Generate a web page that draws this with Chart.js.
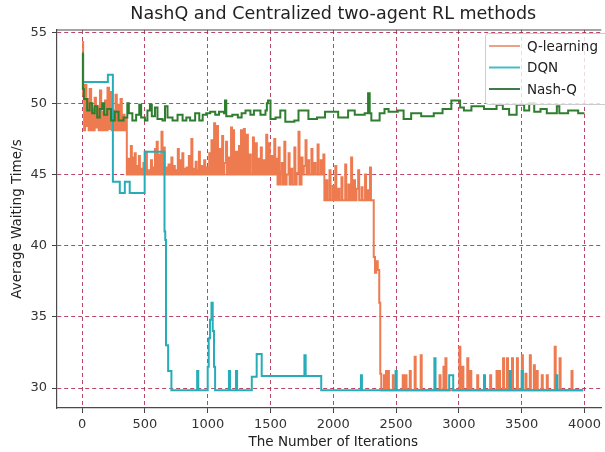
<!DOCTYPE html>
<html>
<head>
<meta charset="utf-8">
<script src="https://cdn.jsdelivr.net/npm/chart.js@4.4.0/dist/chart.umd.min.js"></script>
<style>
html, body { margin: 0; padding: 0; background: #fff; overflow: hidden; }
#wrap { width: 605px; height: 452px; }
</style>
</head>
<body>
<div id="wrap"><canvas id="chart" width="605" height="452"></canvas></div>
<script>
const titleText = 'NashQ and Centralized two-agent RL methods';
const xLabel = 'The Number of Iterations';
const yLabel = 'Average Waiting Time/s';
const seriesNames = ['Q-learning', 'DQN', 'Nash-Q'];
const xTicks = [0, 500, 1000, 1500, 2000, 2500, 3000, 3500, 4000];
const yTicks = [30, 35, 40, 45, 50, 55];

// Q-learning, [iteration, waiting time] step values
const qStart = [
  [0, 54.3], [8, 50.6], [16, 48.1], [24, 51.3], [34, 48.4], [42, 50.3], [52, 48.1], [60, 51.0],
  [72, 48.1], [82, 49.6], [92, 48.1], [100, 50.4], [110, 48.3], [120, 49.8], [132, 48.1], [142, 50.9],
  [152, 48.1], [162, 49.4], [172, 48.1], [182, 50.2], [192, 48.1], [202, 51.1], [214, 48.2], [224, 50.8],
  [236, 48.1], [246, 49.5], [256, 48.1], [266, 50.6], [276, 48.1], [286, 49.9], [296, 48.1], [306, 50.3],
  [316, 48.1], [326, 49.2], [338, 48.1], [348, 48.9]
];
const qMid = [
  [356, 45.0], [372, 46.1], [380, 45.0], [388, 47.0], [396, 45.0], [404, 46.2], [412, 45.0], [419, 46.5],
  [427, 45.0], [436, 45.6], [444, 45.0], [452, 46.3], [460, 45.0], [470, 45.4], [478, 45.0], [488, 45.8],
  [496, 45.0], [508, 46.6], [516, 45.0], [528, 45.3], [536, 45.0], [548, 46.0], [556, 45.0], [566, 45.5],
  [574, 45.0], [580, 46.8], [588, 45.0], [594, 47.3], [602, 45.0], [612, 46.4], [620, 45.0], [632, 48.0],
  [640, 45.0], [650, 46.9], [658, 45.0], [668, 45.5], [676, 45.0], [688, 45.7], [696, 45.0], [711, 46.2],
  [719, 45.0], [730, 45.6], [738, 45.0], [748, 45.3], [756, 45.0], [762, 46.8], [770, 45.0], [780, 46.0],
  [788, 45.0], [798, 46.5], [806, 45.0], [816, 45.4], [824, 45.0], [832, 45.5], [840, 45.0], [850, 46.3],
  [858, 45.0], [870, 47.5], [878, 45.0], [888, 45.4], [896, 45.0], [904, 45.9], [912, 45.0], [922, 45.3],
  [930, 46.6], [938, 45.0], [952, 45.6], [960, 45.0], [972, 46.0], [980, 45.0], [990, 45.5], [998, 45.0],
  [1012, 46.5], [1020, 45.0], [1030, 47.4], [1038, 45.0], [1051, 48.6], [1059, 45.0], [1066, 46.2], [1074, 48.4],
  [1082, 45.0], [1095, 46.8], [1103, 45.0], [1115, 47.7], [1123, 45.0], [1133, 45.8], [1146, 47.3], [1154, 45.0],
  [1165, 46.2], [1173, 45.0], [1186, 48.3], [1194, 45.0], [1202, 48.1], [1210, 45.0], [1218, 45.7], [1225, 46.6],
  [1233, 45.0], [1249, 47.0], [1257, 45.0], [1265, 48.1], [1273, 45.0], [1280, 46.0], [1288, 48.2], [1296, 45.0],
  [1312, 47.8], [1320, 45.0], [1327, 45.6], [1335, 46.4], [1343, 45.0], [1360, 47.6], [1368, 45.0], [1375, 45.8],
  [1383, 47.2], [1391, 45.0], [1405, 46.1], [1413, 45.0], [1423, 46.9], [1431, 45.0], [1445, 46.0], [1453, 45.0],
  [1466, 47.8], [1474, 45.0], [1486, 47.2], [1494, 45.0], [1502, 45.6], [1510, 46.3], [1518, 45.0], [1530, 47.5],
  [1538, 45.0], [1548, 46.1], [1556, 44.3], [1565, 46.9], [1573, 44.3], [1581, 45.2], [1590, 45.8], [1598, 44.3],
  [1610, 47.3], [1618, 44.3], [1628, 45.0], [1644, 46.5], [1652, 44.3], [1665, 45.4], [1673, 44.3], [1690, 46.9],
  [1698, 44.3], [1708, 45.1], [1723, 48.0], [1731, 44.3], [1747, 46.2], [1755, 45.0], [1765, 45.6], [1779, 47.4],
  [1787, 45.0], [1800, 46.0], [1808, 45.0], [1826, 46.8], [1834, 45.0], [1850, 45.8], [1858, 45.0], [1875, 47.1],
  [1883, 45.0], [1900, 46.0], [1908, 45.0], [1921, 46.4], [1929, 43.2], [1945, 44.6], [1953, 43.2], [1970, 45.3],
  [1978, 43.2], [1995, 44.2], [2003, 43.2], [2016, 45.6], [2024, 43.2], [2040, 44.0], [2048, 43.2], [2065, 44.8],
  [2073, 43.2], [2095, 45.7], [2103, 43.2], [2120, 44.3], [2128, 43.2], [2142, 46.2], [2150, 43.2], [2165, 44.6],
  [2173, 43.2], [2185, 44.0], [2198, 45.3], [2206, 43.2], [2225, 44.1], [2233, 43.2], [2253, 45.0], [2261, 43.2],
  [2275, 43.9], [2283, 43.2], [2292, 45.5], [2300, 43.2]
];
const qDrop = [
  [2322, 39.2], [2332, 38.1], [2342, 38.9], [2354, 38.3], [2366, 36.0], [2374, 31.0], [2382, 29.85]
];
const qTail = [
  [2403, 30.9], [2413, 29.85], [2420, 31.2], [2428, 29.85], [2435, 31.2], [2443, 29.85], [2474, 30.9], [2482, 29.85],
  [2553, 30.9], [2561, 29.85], [2575, 30.9], [2583, 29.85], [2609, 31.2], [2617, 29.85], [2648, 32.2], [2656, 29.85],
  [2696, 32.3], [2704, 29.85], [2846, 30.9], [2854, 29.85], [2877, 31.5], [2885, 29.85], [2893, 32.1], [2901, 29.85],
  [3004, 32.9], [3012, 29.85], [3028, 31.5], [3036, 29.85], [3067, 32.1], [3075, 29.85], [3091, 31.2], [3099, 29.85],
  [3146, 30.9], [3154, 29.85], [3249, 30.9], [3257, 29.85], [3300, 31.2], [3308, 29.85], [3320, 31.2], [3328, 29.85],
  [3352, 32.1], [3360, 29.85], [3383, 32.1], [3391, 29.85], [3400, 31.0], [3408, 29.85], [3423, 32.1], [3431, 29.85],
  [3462, 32.1], [3470, 29.85], [3502, 32.3], [3510, 29.85], [3530, 31.0], [3538, 29.85], [3565, 32.3], [3573, 29.85],
  [3597, 31.6], [3605, 29.85], [3620, 31.2], [3628, 29.85], [3660, 30.9], [3668, 29.85], [3700, 30.9], [3708, 29.85],
  [3763, 32.9], [3771, 29.85], [3802, 32.1], [3810, 29.85], [3897, 31.2], [3905, 29.85], [3990, 29.85]
];

// DQN
const dqnSteps = [
  [0, 53.4], [8, 51.5], [205, 52.0], [245, 44.5], [300, 43.7], [340, 44.5], [379, 43.7], [498, 46.6],
  [656, 41.0], [662, 40.4], [668, 33.0], [685, 31.2], [711, 29.85], [916, 31.2], [925, 29.85], [1000, 31.5],
  [1008, 33.5], [1018, 34.8], [1030, 36.0], [1040, 34.0], [1050, 31.5], [1059, 29.85], [1169, 31.2], [1178, 29.85],
  [1225, 31.2], [1234, 29.85], [1351, 30.8], [1390, 32.4], [1430, 30.85], [1770, 32.3], [1780, 30.85], [1904, 29.85],
  [2220, 30.9], [2228, 29.85], [2496, 31.2], [2505, 29.85], [2805, 32.1], [2814, 29.85], [2923, 30.9], [2955, 29.85],
  [3200, 30.9], [3208, 29.85], [3405, 31.2], [3413, 29.85], [3500, 31.2], [3508, 29.85], [3776, 30.9], [3784, 29.85],
  [3990, 29.85]
];

// Nash-Q
const nashSteps = [
  [0, 53.5], [6, 51.0], [14, 50.3], [40, 49.5], [60, 50.0], [80, 49.3], [100, 49.8], [120, 49.0],
  [140, 49.6], [160, 50.0], [175, 49.2], [200, 49.6], [230, 48.8], [260, 49.4], [290, 48.8], [330, 49.0],
  [360, 50.0], [372, 49.3], [400, 48.8], [430, 49.2], [455, 49.9], [470, 49.0], [500, 48.8], [520, 49.5],
  [540, 49.9], [555, 49.1], [580, 49.7], [600, 48.9], [640, 48.8], [660, 49.8], [680, 49.0], [720, 48.8],
  [760, 49.2], [800, 48.8], [830, 49.0], [860, 48.8], [900, 49.3], [933, 48.8], [960, 49.2], [988, 49.3],
  [1020, 49.4], [1060, 49.2], [1090, 49.4], [1130, 49.3], [1138, 50.2], [1148, 49.1], [1196, 49.2], [1240, 49.0],
  [1270, 49.3], [1301, 49.5], [1340, 49.2], [1368, 49.5], [1420, 49.2], [1460, 49.5], [1471, 50.0], [1480, 50.2],
  [1500, 48.9], [1540, 49.0], [1578, 49.5], [1618, 48.7], [1690, 48.8], [1723, 49.5], [1802, 48.9], [1870, 49.0],
  [1934, 49.4], [2039, 49.0], [2118, 49.5], [2171, 49.2], [2250, 49.3], [2277, 50.7], [2290, 49.3], [2303, 48.8],
  [2369, 49.3], [2408, 49.6], [2440, 49.4], [2514, 49.5], [2560, 48.9], [2620, 49.3], [2700, 49.1], [2800, 49.3],
  [2870, 49.6], [2940, 50.2], [3010, 49.7], [3040, 49.5], [3100, 49.8], [3200, 49.6], [3300, 49.9], [3350, 49.6],
  [3400, 49.2], [3460, 49.9], [3520, 49.5], [3560, 50.0], [3600, 49.4], [3650, 49.6], [3700, 49.3], [3780, 49.8],
  [3800, 49.3], [3870, 49.5], [3950, 49.3], [4000, 49.3]
];

const lineColors = ['#ee7a50', '#26adb9', '#2f7d2f'];
const legendColors = ['#eca088', '#45bcc6', '#3f7a4a'];
const FONT = '"DejaVu Sans", sans-serif';

function toPoints(pairs) {
  return pairs.map(p => ({ x: p[0], y: p[1] }));
}

const decorations = {
  id: 'decorations',
  afterDraw(chart) {
    const { ctx, chartArea: a, scales: { x } } = chart;
    ctx.save();
    // top spine
    ctx.strokeStyle = '#4a4a4a';
    ctx.lineWidth = 1.2;
    ctx.beginPath();
    ctx.moveTo(a.left, a.top);
    ctx.lineTo(a.right, a.top);
    ctx.stroke();

    // title and x label, centred on the whole axes (-200 .. 4200)
    const cx = x.getPixelForValue(2000);
    ctx.fillStyle = '#222';
    ctx.textAlign = 'center';
    ctx.textBaseline = 'middle';
    ctx.font = '17.5px ' + FONT;
    ctx.fillText(titleText, cx, 14);
    ctx.font = '13.5px ' + FONT;
    ctx.fillText(xLabel, cx, 442);

    // legend box, upper right
    const bx = 485, by = 33, bw = 130, bh = 71;
    ctx.fillStyle = 'rgba(255,255,255,0.8)';
    ctx.strokeStyle = '#cccccc';
    ctx.lineWidth = 1;
    ctx.beginPath();
    ctx.roundRect(bx + 0.5, by + 0.5, bw, bh, 3);
    ctx.fill();
    ctx.stroke();
    ctx.textAlign = 'left';
    ctx.font = '13.5px ' + FONT;
    seriesNames.forEach((name, i) => {
      const ly = 46 + i * 21.5;
      ctx.strokeStyle = legendColors[i];
      ctx.lineWidth = 2;
      ctx.beginPath();
      ctx.moveTo(489, ly);
      ctx.lineTo(520, ly);
      ctx.stroke();
      ctx.fillStyle = '#222';
      ctx.fillText(name, 527, ly + 1);
    });
    ctx.restore();
  }
};

const gridStyle = {
  color: 'rgba(172,40,78,0.85)',
  lineWidth: 1,
  tickLength: 5,
  tickColor: '#444',
  tickWidth: 1
};

new Chart(document.getElementById('chart'), {
  type: 'line',
  data: {
    datasets: [
      { label: seriesNames[0], data: toPoints(qStart.concat(qMid, qDrop, qTail)), borderColor: lineColors[0], order: 2 },
      { label: seriesNames[1], data: toPoints(dqnSteps), borderColor: lineColors[1], order: 1 },
      { label: seriesNames[2], data: toPoints(nashSteps), borderColor: lineColors[2], order: 0 }
    ].map(ds => Object.assign(ds, {
      stepped: true, borderWidth: 2, pointRadius: 0, fill: false, tension: 0
    }))
  },
  options: {
    responsive: false,
    devicePixelRatio: 1,
    animation: false,
    layout: { padding: { top: 30, left: 0, right: 0, bottom: 0 } },
    plugins: {
      legend: { display: false },
      title: { display: false },
      tooltip: { enabled: false }
    },
    scales: {
      x: {
        type: 'linear',
        min: -200,
        max: 4134,
        afterBuildTicks: s => { s.ticks = xTicks.map(v => ({ value: v })); },
        afterFit: s => { s.height = 44; },
        ticks: {
          autoSkip: false, maxRotation: 0, padding: 4, color: '#333',
          font: { family: FONT, size: 13 },
          callback: v => String(v)
        },
        grid: gridStyle,
        border: { display: true, color: '#4a4a4a', width: 1.2, dash: [4, 3] }
      },
      y: {
        type: 'linear',
        min: 28.6,
        max: 55.15,
        afterBuildTicks: s => { s.ticks = yTicks.map(v => ({ value: v })); },
        afterFit: s => { s.width = 57; },
        ticks: {
          autoSkip: false, padding: 5, color: '#333',
          font: { family: FONT, size: 13 },
          callback: v => String(v)
        },
        grid: gridStyle,
        border: { display: true, color: '#4a4a4a', width: 1.2, dash: [4, 3] },
        title: {
          display: true, text: yLabel, color: '#222',
          font: { family: FONT, size: 13.5 }, padding: { top: 9, bottom: 0 }
        }
      }
    }
  },
  plugins: [decorations]
});
</script>
</body>
</html>
